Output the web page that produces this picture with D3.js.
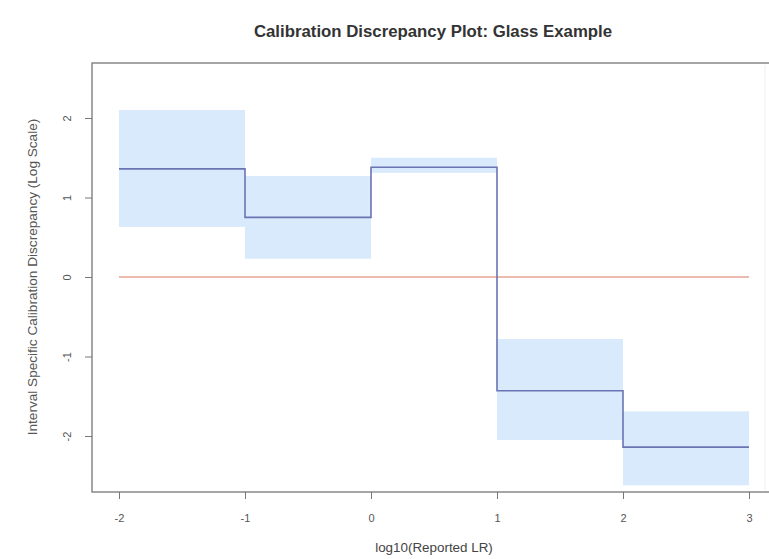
<!DOCTYPE html>
<html lang="en">
<head>
<meta charset="UTF-8" />
<title>Calibration Discrepancy Plot: Glass Example</title>
<script src="https://d3js.org/d3.v7.min.js"></script>
<style>
  body { margin: 0; background: #fff; }
  svg { font-family: "Liberation Sans", Arial, sans-serif; }
  .tick text { fill: #555; font-size: 11px; }
  .tick line { stroke: #777; }
</style>
</head>
<body>
<svg width="769" height="559"></svg>
<script>
// bin edges in log10(LR)
const binStart = [-2, -1, 0, 1, 2];
const binEnd = [-1, 0, 1, 2, 3];
// estimated discrepancy per bin and its interval
const discrepancy = [1.36, 0.75, 1.38, -1.43, -2.14];
const lower = [0.63, 0.23, 1.31, -2.05, -2.62];
const upper = [2.10, 1.27, 1.50, -0.78, -1.69];

const xTicks = [-2, -1, 0, 1, 2, 3];
const yTicks = [-2, -1, 0, 1, 2];

const svg = d3.select("svg");

// plot box
const box = { left: 92, top: 63, right: 775, bottom: 492 };

const x = d3.scaleLinear().domain([-2, 3]).range([119, 749]);
const y = d3.scaleLinear().domain([-2, 2]).range([436, 118]);

const bins = binStart.map((s, i) => ({
  s, e: binEnd[i], v: discrepancy[i], lo: lower[i], hi: upper[i]
}));

// interval bands
svg.append("g")
  .selectAll("rect")
  .data(bins)
  .join("rect")
  .attr("x", d => x(d.s))
  .attr("width", d => x(d.e) - x(d.s))
  .attr("y", d => y(d.hi))
  .attr("height", d => y(d.lo) - y(d.hi))
  .attr("fill", "#d8eafb");

// reference line at zero
svg.append("line")
  .attr("x1", x(-2)).attr("x2", x(3))
  .attr("y1", y(0)).attr("y2", y(0))
  .attr("stroke", "#d9775e")
  .attr("stroke-width", 1.1);

// step line
const stepPts = [];
bins.forEach(d => { stepPts.push([d.s, d.v]); });
stepPts.push([bins[bins.length - 1].e, bins[bins.length - 1].v]);
const line = d3.line()
  .x(d => x(d[0]))
  .y(d => y(d[1]))
  .curve(d3.curveStepAfter);
svg.append("path")
  .attr("d", line(stepPts))
  .attr("fill", "none")
  .attr("stroke", "#6a74b4")
  .attr("stroke-width", 1.6);

// frame
svg.append("rect")
  .attr("x", box.left).attr("y", box.top)
  .attr("width", box.right - box.left)
  .attr("height", box.bottom - box.top)
  .attr("fill", "none")
  .attr("stroke", "#888")
  .attr("stroke-width", 1.5);
svg.append("line")
  .attr("x1", 765).attr("x2", 765)
  .attr("y1", box.top + 2).attr("y2", box.bottom - 2)
  .attr("stroke", "#eee");

// axes
const xAxis = svg.append("g")
  .attr("transform", `translate(0,${box.bottom})`)
  .call(d3.axisBottom(x).tickValues(xTicks).tickSize(7).tickPadding(15).tickFormat(String));
xAxis.select(".domain").remove();

const yAxis = svg.append("g")
  .attr("transform", `translate(${box.left},0)`)
  .call(d3.axisLeft(y).tickValues(yTicks).tickSize(7).tickFormat(String));
yAxis.select(".domain").remove();
yAxis.selectAll(".tick text")
  .attr("x", 0).attr("dy", 0)
  .attr("text-anchor", "middle")
  .attr("transform", "translate(-24,0) rotate(-90)")
  .attr("dominant-baseline", "middle");

// titles
svg.append("text")
  .attr("x", 433).attr("y", 37)
  .attr("text-anchor", "middle")
  .attr("font-weight", "bold")
  .attr("font-size", 16.8)
  .attr("fill", "#333")
  .text("Calibration Discrepancy Plot: Glass Example");

svg.append("text")
  .attr("transform", `translate(37,${y(0)}) rotate(-90)`)
  .attr("text-anchor", "middle")
  .attr("font-size", 13.6)
  .attr("fill", "#555")
  .text("Interval Specific Calibration Discrepancy (Log Scale)");

svg.append("text")
  .attr("x", 434).attr("y", 552)
  .attr("text-anchor", "middle")
  .attr("font-size", 13.4)
  .attr("fill", "#444")
  .text("log10(Reported LR)");
</script>
</body>
</html>
